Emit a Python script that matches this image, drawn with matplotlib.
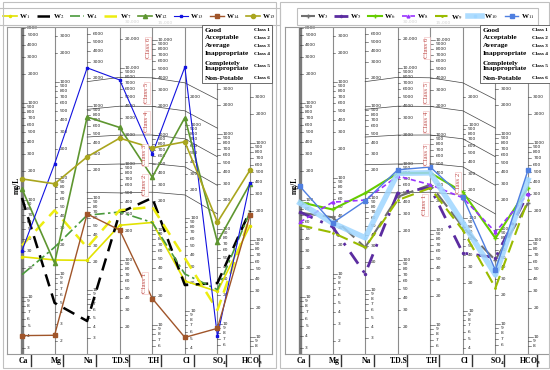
import numpy as np
import matplotlib
matplotlib.use("Agg")
import matplotlib.pyplot as plt
from matplotlib.patches import Rectangle

plt.rcParams['mathtext.fontset'] = 'stix'
SERIF = ['Liberation Serif', 'DejaVu Serif']

# ---------------- data ----------------
params = ["Ca", "Mg", "Na", "T.D.S", "T.H", "Cl", "SO$_\\mathbf{4}$", "HCO$_\\mathbf{3}$"]

left_names = ["W$_1$", "W$_2$", "W$_4$", "W$_7$", "W$_{12}$", "W$_{13}$", "W$_{14}$", "W$_{15}$"]
W1 = [26, 14, 21, 230, 120, 21, 22, 140]
W2 = [105, 5, 4.6, 310, 218, 19, 27, 200]
W4 = [17, 19, 65, 316, 120, 25, 23, 195]
W7 = [34, 46, 29, 330, 175, 37, 14, 170]
W12 = [130, 13, 760, 2400, 360, 1200, 73, 380]
W13 = [30, 140, 2600, 7500, 630, 4200, 7.4, 390]
W14 = [4, 2.3, 67, 205, 19, 5.2, 9, 180]
W15 = [165, 87, 280, 1860, 730, 660, 118, 525]

right_names = ["W$_3$", "W$_5$", "W$_6$", "W$_8$", "W$_9$", "W$_{10}$", "W$_{11}$"]
W3 = [74, 39, 29, 455, 300, 80, 47, 240]
W5 = [75, 31, 15, 500, 280, 42, 50, 300]
W6 = [95, 47, 113, 800, 400, 190, 80, 345]
W8 = [59, 56, 95, 750, 300, 165, 93, 300]
W9 = [55, 27, 29, 420, 277, 74, 24, 260]
W10 = [93, 34, 37, 800, 400, 89, 33, 415]
W11 = [138, 34, 93, 870, 460, 168, 37, 525]

# potability class limits (Na, TDS, TH, Cl, SO4)
class_cols = [2, 3, 4, 5, 6]
class_Na = [115, 230, 460, 920, 1840]
class_TDS = [500, 1000, 2000, 4000, 8000]
class_TH = [250, 500, 1000, 2000, 4000]
class_Cl = [177, 355, 710, 1420, 2840]
class_SO4 = [144, 288, 576, 1152, 2304]

class_names = ["Good", "Acceptable", "Average", "Inappropriate",
               "Completely\nInappropriate", "Non-Potable"]
class_ids = ["Class 1", "Class 2", "Class 3", "Class 4", "Class 5", "Class 6"]

# per-column scale ranges
tick_lo = [3, 2, 3, 20, 6, 4, 6, 8]
tick_hi = [6000, 3000, 6000, 30000, 15000, 2000, 3000, 3000]

# ---------------- layout (pixel geometry of the column scales) ----------------
W_PX, H_PX = 550, 370
COL_Y1000 = [103, 82, 106, 164, 135, 125, 134, 143]
COL_PXDEC = [97, 96, 92, 96, 95, 93, 95, 97]
REF_Y1000, REF_PXDEC = 103, 97
COL_SP = 32.57


def to_ref(v, c):
    """map a value of column c onto the common reference log scale"""
    v = np.asarray(v, dtype=float)
    ypx = COL_Y1000[c] - COL_PXDEC[c] * (np.log10(v) - 3)
    return 10 ** (3 - (ypx - REF_Y1000) / REF_PXDEC)


def px_y(ypx):
    return 10 ** (3 - (ypx - REF_Y1000) / REF_PXDEC)


def series_ref(vals):
    return [float(to_ref(v, c)) for c, v in enumerate(vals)]


def fmt(v):
    return f"{int(v):,}" if v >= 10000 else f"{int(v)}"


def is_power10(v):
    s = str(int(v))
    return s[0] == '1' and set(s[1:]) <= {'0'}


fig = plt.figure(figsize=(5.5, 3.7), dpi=100)


def fx(x):
    return x / W_PX


def fy(y):
    return 1 - y / H_PX


def make_panel(x0, series, names, styles):
    ax = fig.add_axes([fx(x0 + 7), fy(354), 265 / W_PX, 327 / H_PX])
    ax.set_yscale('log')
    ax.set_xlim(-15 / COL_SP, 250 / COL_SP)
    ax.set_ylim(px_y(354), px_y(27))
    ax.set_xticks([])
    ax.set_yticks([])
    ax.minorticks_off()
    for s in ax.spines.values():
        s.set_color('#9a9a9a')
        s.set_linewidth(0.8)

    # column axes
    for c in range(8):
        ax.axvline(c, color='#7a7a7a' if c == 0 else '#8c8c8c',
                   lw=2.4 if c == 0 else 0.8, zorder=1)
        vals = []
        for k in range(0, 6):
            for n in range(1, 10):
                v = n * 10 ** k
                if tick_lo[c] <= v <= tick_hi[c]:
                    vals.append(v)
        if tick_hi[c] not in vals:
            vals.append(tick_hi[c])
        for v in vals:
            r = float(to_ref(v, c))
            major = is_power10(v)
            ax.plot([c, c + (0.14 if major else 0.08)], [r, r], color='#333333', lw=0.4, zorder=2)
            ax.text(c + 0.16, r, fmt(v), fontsize=3.2, va='center', ha='left',
                    color='#222222', zorder=2)
        ax.text(c + 0.05, px_y(361), params[c], fontsize=5.5, fontweight='bold',
                family=SERIF, ha='center', va='center', clip_on=False)
        ax.plot([c + 0.27, c + 0.27], [px_y(355), px_y(366)], color='#333333',
                lw=1.0, clip_on=False)

    # class limit lines
    limits = [class_Na, class_TDS, class_TH, class_Cl, class_SO4]
    for i in range(5):
        ys = [float(to_ref(limits[j][i], class_cols[j])) for j in range(5)]
        ax.plot(class_cols, ys, color='#444444', lw=0.5, zorder=2)

    # series
    xs = np.arange(8)
    handles = []
    for vals, name, st in zip(series, names, styles):
        h, = ax.plot(xs, series_ref(vals), label=name, zorder=4, **st)
        handles.append(h)

    leg = ax.legend(handles=handles, loc='lower center', bbox_to_anchor=(0.5, 1.006),
                    ncol=len(handles), frameon=True, fancybox=False,
                    edgecolor='#b0b0b0', handlelength=2.0, columnspacing=0.9,
                    handletextpad=0.3, borderpad=0.6, borderaxespad=0.0,
                    prop={'family': SERIF, 'weight': 'bold', 'size': 5.0})
    leg.get_frame().set_linewidth(0.8)

    # mg/L
    ax.text(-5 / COL_SP, px_y(185), "mg/L", rotation=90, fontsize=5.5,
            fontweight='bold', family=SERIF, ha='center', va='center')
    return ax


left_styles = [
    dict(color='#e2e200', lw=1.2, marker='o', ms=1.5),
    dict(color='black', lw=1.8, ls=(0, (5, 3))),
    dict(color='#4a9a3c', lw=1.2, ls=(0, (6, 2, 1.5, 2))),
    dict(color='#eded10', lw=1.8, ls=(0, (5, 3))),
    dict(color='#5e9630', lw=1.2, marker='^', ms=3),
    dict(color='#1212e0', lw=0.8, marker='s', ms=2),
    dict(color='#a0552a', lw=1.0, marker='s', ms=3),
    dict(color='#a9a51e', lw=1.2, marker='o', ms=3),
]
right_styles = [
    dict(color='#707070', lw=1.5, ls=(0, (8, 3)), marker='+', ms=2.5),
    dict(color='#5b2ca0', lw=2.0, ls=(0, (5, 3, 1, 3)), marker='o', ms=1.5),
    dict(color='#66cc00', lw=1.5, marker='+', ms=3),
    dict(color='#9933ff', lw=1.2, ls=(0, (3, 2)), marker='^', ms=2),
    dict(color='#99bb00', lw=1.5, ls=(0, (6, 3)), marker='.', ms=2),
    dict(color='#9fd6ff', lw=4.0, alpha=0.85, marker='s', ms=2),
    dict(color='#4f7fe0', lw=1.0, marker='s', ms=3),
]

axL = make_panel(0, [W1, W2, W4, W7, W12, W13, W14, W15], left_names, left_styles)
axR = make_panel(278, [W3, W5, W6, W8, W9, W10, W11], right_names, right_styles)

# panel outer borders
for x0, x1 in [(3, 276), (280, 549)]:
    fig.patches.append(Rectangle((fx(x0), fy(368)), (x1 - x0) / W_PX, 366 / H_PX,
                                 transform=fig.transFigure, fill=False,
                                 ec='#c0c0c0', lw=0.8))

# class legend boxes
for bx in [202, 480]:
    fig.patches.append(Rectangle((fx(bx), fy(83)), 70 / W_PX, 58 / H_PX,
                                 transform=fig.transFigure, fill=True, fc='white',
                                 ec='#555555', lw=0.6, zorder=5))
    rows = [30, 38, 46, 54, 66, 78]
    for name, cid, yy in zip(class_names, class_ids, rows):
        fig.text(fx(bx + 3), fy(yy), name, fontsize=5.3, fontweight='bold',
                 family=SERIF, va='center', ha='left', linespacing=0.85, zorder=6)
        fig.text(fx(bx + 68), fy(yy), cid, fontsize=3.8, fontweight='bold',
                 family=SERIF, va='center', ha='right', zorder=6)

# vertical class labels inside panels
left_lbl = [(145, 283), (145, 185), (145, 155), (147, 122), (147, 93), (148, 48)]
right_lbl = [(425, 205), (458, 183), (426, 155), (426, 122), (426, 93), (427, 48)]
for lbls in (left_lbl, right_lbl):
    for cid, (x, y) in zip(class_ids, lbls):
        fig.text(fx(x), fy(y), cid, rotation=90, fontsize=5, family=SERIF,
                 color='#c0504d', ha='center', va='center', zorder=6,
                 bbox=dict(boxstyle='square,pad=0.1', fc='white', ec='#f2b8b8', lw=0.4))

fig.savefig("out.png", dpi=100)
